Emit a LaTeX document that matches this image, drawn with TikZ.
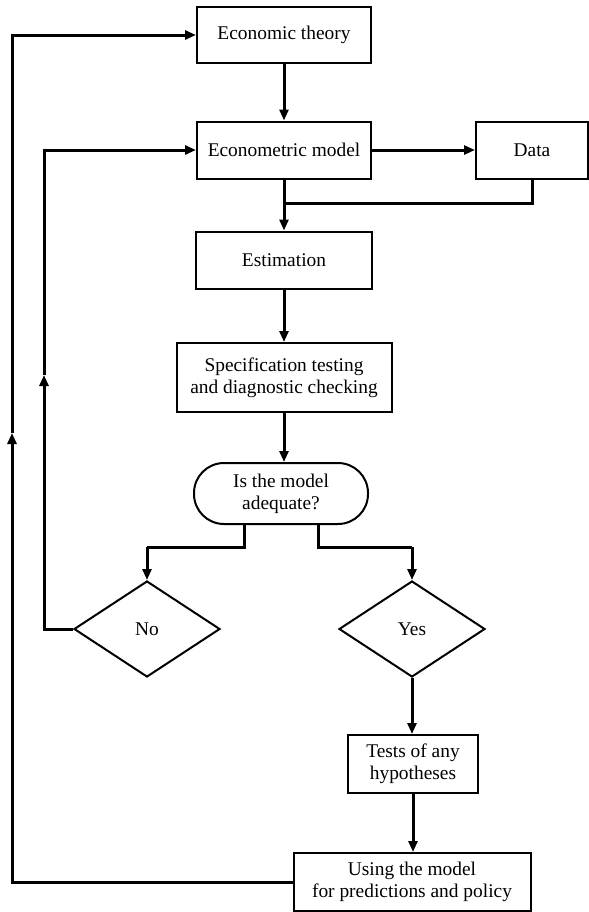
\documentclass[tikz,border=0pt]{standalone}
\usepackage{fontspec}
\setmainfont{Liberation Serif}
\usetikzlibrary{arrows.meta}
\usetikzlibrary{shapes.geometric}

\begin{document}
\begin{tikzpicture}[x=0.5pt, y=-0.5pt,
        box/.style={draw, line width=1pt, align=center, inner sep=0pt,
            font=\fontsize{9.7}{11}\selectfont},
        choice/.style={box, diamond, minimum width=73pt, minimum height=48pt},
        link/.style={line width=1.5pt},
        arrowlink/.style={link, -{Triangle[length=5.5pt, width=4.5pt]}}]
        \useasboundingbox (0, 0) rectangle (589, 912);
        % main column
        \node [box, minimum width=87pt, minimum height=28pt] (theory) at (284, 35) {Economic theory};
        \node [box, minimum width=87pt, minimum height=28.5pt] (econ) at (284, 150) {Econometric model};
        \node [box, minimum width=56pt, minimum height=28.5pt] (data) at (532, 150) {Data};
        \node [box, minimum width=88pt, minimum height=28.5pt] (est) at (284, 260) {Estimation};
        \node [box, minimum width=107.5pt, minimum height=34.5pt] (spec) at (284, 377.5)
            {Specification testing\\and diagnostic checking};
        \node [box, rounded corners=15pt, minimum width=87pt, minimum height=30.5pt] (adequate) at (281, 493.5)
            {Is the model\\adequate?};
        \node [choice] (no) at (147, 629) {No};
        \node [choice] (yes) at (412, 629) {Yes};
        \node [box, minimum width=65pt, minimum height=29pt] (tests) at (413, 764) {Tests of any\\hypotheses};
        \node [box, minimum width=118.5pt, minimum height=29pt] (using) at (412, 882)
            {Using the model\\for predictions and policy};
        % bends
        \coordinate (merge) at (284, 203);
        \coordinate (nobend) at (147, 547);
        \coordinate (yesbend) at (412, 547);
        \coordinate (innerup) at (44, 375);
        \coordinate (outerup) at (12, 433);
        % connectors
        \draw [arrowlink] (theory) -- (econ);
        \draw [arrowlink] (econ) -- (data);
        \draw [link] (data.south) |- (merge);
        \draw [arrowlink] (econ.south) -- (est.north);
        \draw [arrowlink] (est) -- (spec);
        \draw [arrowlink] (spec.south) -- (spec.south |- adequate.north);
        \draw [link] ([xshift=-18.5pt]adequate.south) |- (nobend);
        \draw [arrowlink] (nobend) -- (no.north);
        \draw [link] ([xshift=18.5pt]adequate.south) |- (yesbend);
        \draw [arrowlink] (yesbend) -- (yes.north);
        \draw [arrowlink] (yes.south) -- (yes.south |- tests.north);
        \draw [arrowlink] (tests.south) -- (tests.south |- using.north);
        % feedback loops
        \draw [arrowlink] (no.west) -| (innerup);
        \draw [arrowlink] (innerup) |- (econ.west);
        \draw [arrowlink] (using.west) -| (outerup);
        \draw [arrowlink] (outerup) |- (theory.west);
    \end{tikzpicture}
\end{document}
